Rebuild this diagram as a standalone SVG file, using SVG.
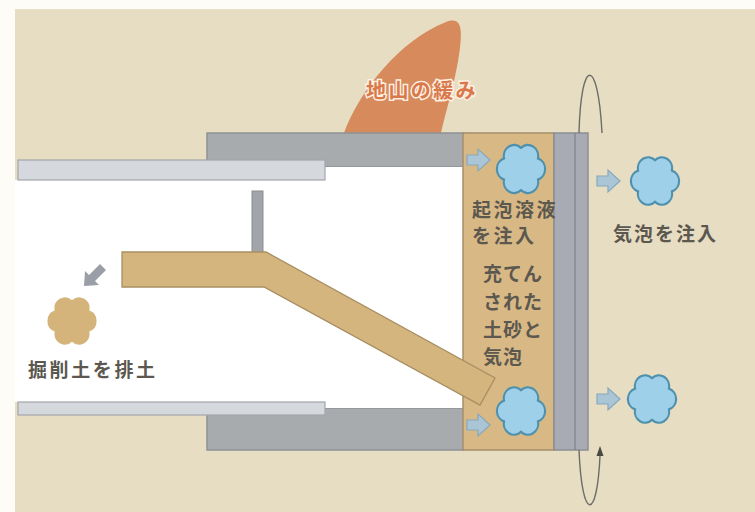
<svg xmlns="http://www.w3.org/2000/svg" xmlns:xlink="http://www.w3.org/1999/xlink" width="755" height="512" viewBox="0 0 755 512">
  <defs>
    <style>
      .jp { font-family: "Noto Sans CJK JP", "Noto Sans", sans-serif; font-weight: 700; }
      .label { fill: #5c5850; font-size: 19px; }
      .bubble { fill: #9fd0ea; stroke: #4f91ad; stroke-width: 2.2; }
      .push { fill: #aac6d6; stroke: #86a8bc; stroke-width: 1.2; }
      .shell { fill: #a8abae; stroke: #8f9295; stroke-width: 1.5; }
      .band { fill: #d5d8dc; stroke: #a3a6aa; stroke-width: 1.2; }
      .spin { fill: none; stroke: #6d6c68; stroke-width: 1.4; }
    </style>
    <!-- rounded six-lobed puff used for foam bubbles and spoil -->
    <path id="puff" d="M0,-20 A10.5,10.5 0 0 1 17.3,-10 A10.5,10.5 0 0 1 17.3,10 A10.5,10.5 0 0 1 0,20 A10.5,10.5 0 0 1 -17.3,10 A10.5,10.5 0 0 1 -17.3,-10 A10.5,10.5 0 0 1 0,-20 Z"/>
    <!-- short block arrow pointing right -->
    <path id="push" d="M0,-5 H11 V-11 L23,0 L11,11 V5 H0 Z"/>
  </defs>

  <!-- page and ground -->
  <rect x="0" y="0" width="755" height="512" fill="#fdfcf6"/>
  <rect x="15" y="9" width="740" height="503" fill="#e6ddc2"/>

  <!-- loosened ground above the shield -->
  <g id="ground-loosening">
    <path d="M344,133 C360,90 400,40 446,22 C462,16 462,30 460,48 C456,80 446,110 441,133 Z" fill="#d78a5c"/>
    <text class="jp" x="366" y="98" font-size="20" letter-spacing="2.4" fill="#d9784a" stroke="#fff0e2" stroke-width="3" paint-order="stroke">地山の緩み</text>
  </g>

  <!-- shield shell -->
  <g id="shield">
    <rect class="shell" x="207" y="133" width="257" height="34"/>
    <rect class="shell" x="207" y="408" width="257" height="42"/>
    <rect x="325" y="167" width="139" height="241" fill="#ffffff"/>
  </g>

  <!-- segment lining of the excavated tunnel -->
  <g id="tunnel">
    <rect x="15" y="180" width="310" height="222" fill="#ffffff"/>
    <rect class="band" x="18" y="160" width="307" height="20"/>
    <rect class="band" x="18" y="402" width="307" height="13"/>
  </g>

  <!-- chamber with foam and soil -->
  <g id="chamber">
    <rect x="463" y="133" width="91" height="317" fill="#d8b985" stroke="#a48e6a" stroke-width="1.5"/>
  </g>

  <!-- cutter face -->
  <g id="cutter">
    <rect x="554" y="133" width="34" height="317" fill="#a9abb4" stroke="#8c8e96" stroke-width="1.5"/>
    <line x1="575" y1="133" x2="575" y2="450" stroke="#7f818a" stroke-width="1.2"/>
  </g>

  <!-- screw conveyor -->
  <g id="screw-conveyor">
    <rect x="252" y="191" width="11" height="62" fill="#a1a4a8" stroke="#8a8d91" stroke-width="1"/>
    <path d="M122,252 H266 L495,378 L480,405 L264,287 H122 Z" fill="#d5b57e" stroke="#a88e62" stroke-width="1.3"/>
  </g>

  <!-- spoil discharge -->
  <g id="spoil">
    <path d="M106,270 L95,281 L99,285 L84,286 L85,271 L89,275 L100,264 Z" fill="#9a9ea6"/>
    <use href="#puff" xlink:href="#puff" transform="translate(72,321) scale(1.0,1.04)" fill="#d4b47b"/>
    <text class="jp label" x="28" y="377" letter-spacing="2.6">掘削土を排土</text>
  </g>

  <!-- foam injection into the chamber -->
  <g id="foam-chamber">
    <use class="push" href="#push" xlink:href="#push" x="467" y="160"/>
    <use class="bubble" href="#puff" xlink:href="#puff" transform="translate(521,169) scale(0.98,1.06)"/>
    <use class="push" href="#push" xlink:href="#push" x="467" y="425"/>
    <use class="bubble" href="#puff" xlink:href="#puff" transform="translate(521,411) scale(0.98,1.04)"/>
    <text class="jp label" x="472" y="217" letter-spacing="2.5">起泡溶液</text>
    <text class="jp label" x="472" y="243" letter-spacing="2.5">を注入</text>
  </g>

  <!-- mixed soil and foam -->
  <g id="mixed-soil">
    <text class="jp label" x="483" y="281" letter-spacing="1">充てん</text>
    <text class="jp label" x="483" y="309" letter-spacing="1">された</text>
    <text class="jp label" x="483" y="337" letter-spacing="1">土砂と</text>
    <text class="jp label" x="483" y="364" letter-spacing="1">気泡</text>
  </g>

  <!-- foam injection at the face -->
  <g id="foam-face">
    <use class="push" href="#push" xlink:href="#push" x="597" y="181"/>
    <use class="bubble" href="#puff" xlink:href="#puff" transform="translate(655,181) scale(0.98,1.04)"/>
    <use class="push" href="#push" xlink:href="#push" x="597" y="399"/>
    <use class="bubble" href="#puff" xlink:href="#puff" transform="translate(652,399) scale(0.98,1.04)"/>
    <text class="jp label" x="613" y="241" letter-spacing="2">気泡を注入</text>
  </g>

  <!-- cutter rotation -->
  <g id="connectors">
    <path class="spin" d="M579,133 C581,56 598,56 602,133"/>
    <path class="spin" d="M579,450 C582,522 597,522 600,456"/>
    <polygon points="600,446 596.5,456 603.5,456" fill="#4a4944"/>
  </g>
</svg>
